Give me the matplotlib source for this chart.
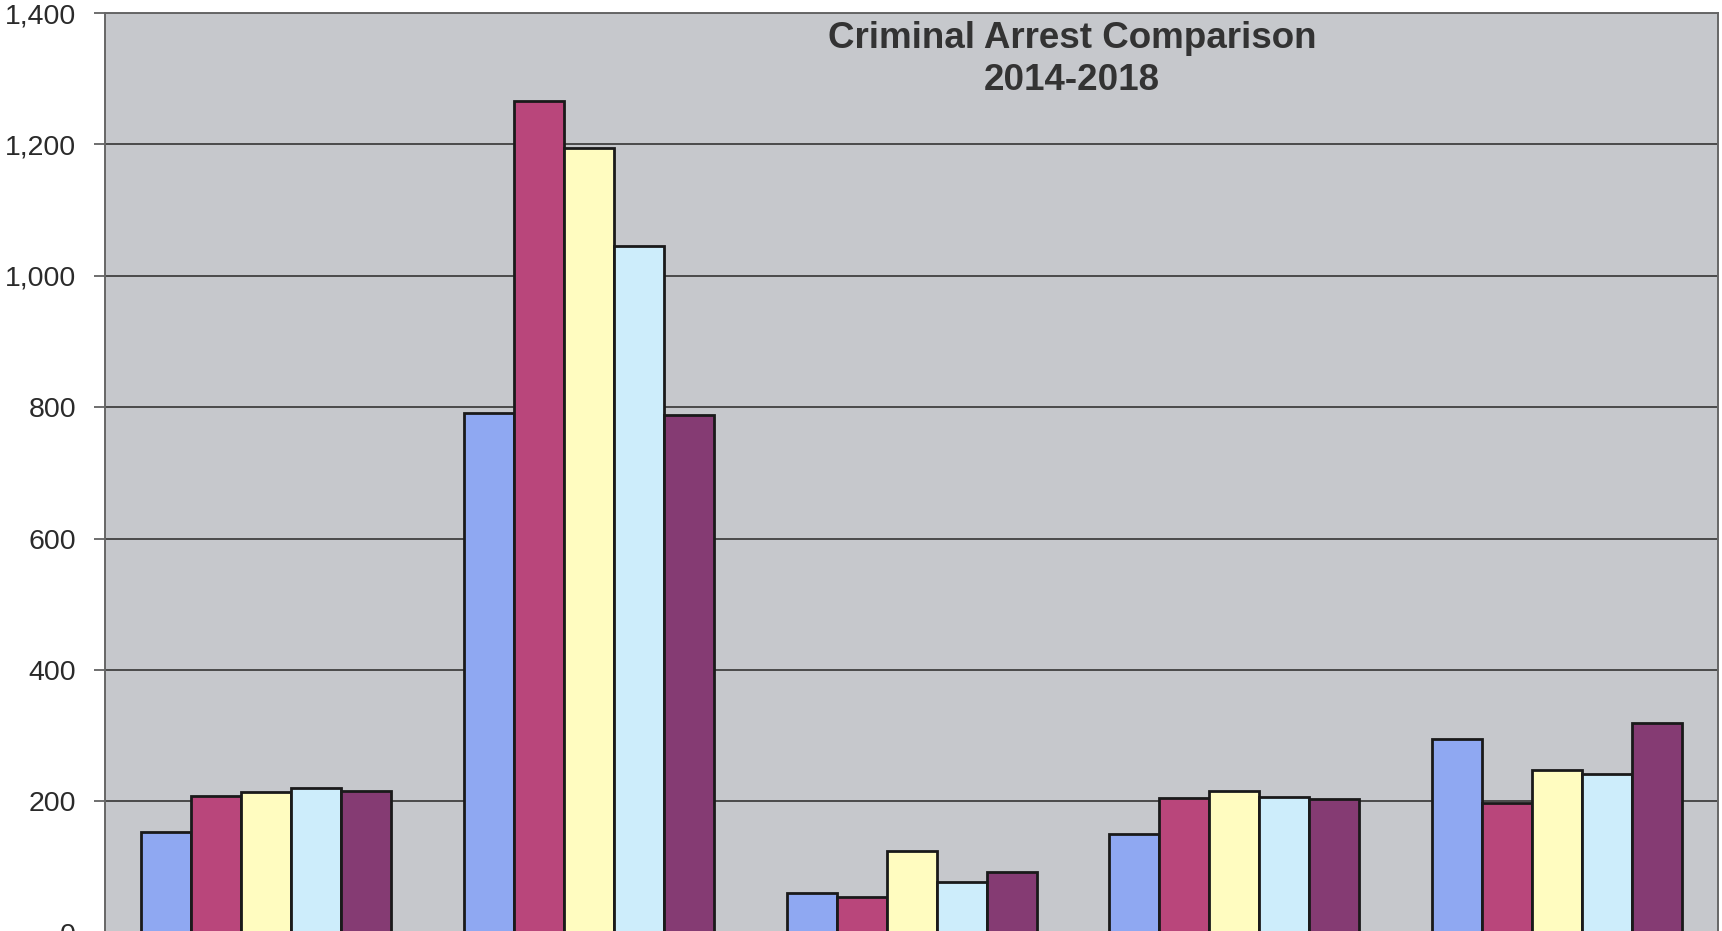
import numpy as np
import matplotlib.pyplot as plt

# series are the five years, groups are the (cut-off) arrest categories
years = ["2014", "2015", "2016", "2017", "2018"]
n_groups = 5

arrests_2014 = [153, 792, 60, 150, 295]
arrests_2015 = [209, 1266, 54, 206, 197]
arrests_2016 = [215, 1194, 125, 216, 248]
arrests_2017 = [220, 1045, 77, 207, 242]
arrests_2018 = [216, 788, 92, 204, 320]

colores = ["#8FA8F2", "#B9467B", "#FFFCC0", "#CDEDFB", "#853B73"]
y_ticks = [0, 200, 400, 600, 800, 1000, 1200, 1400]


def main():
	series = [arrests_2014, arrests_2015, arrests_2016, arrests_2017, arrests_2018]

	plt.rcParams["font.family"] = ["Liberation Sans", "DejaVu Sans"]
	fig = plt.figure(figsize=(17.22, 9.31), dpi=100)
	ax = fig.add_axes([0.061, -0.002, 0.9367, 0.988])
	ax.set_facecolor("#C6C8CC")

	x = np.arange(n_groups)
	largura = 0.155
	for i, (valores, cor) in enumerate(zip(series, colores)):
		ax.bar(x + (i - 2) * largura, valores, largura, color=cor,
			edgecolor="#1a1a1a", linewidth=2, label=years[i], zorder=3)

	ax.set_xlim(-0.5, n_groups - 0.5)
	ax.set_ylim(0, 1400)
	ax.set_yticks(y_ticks)
	ax.set_yticklabels([f"{v:,}" for v in y_ticks], fontsize=20.5, color="#2a2a2a")
	ax.tick_params(axis="y", length=8, width=1.2, pad=13, color="#555555")
	ax.set_xticks(np.arange(n_groups + 1) - 0.5)
	ax.set_xticklabels([])
	ax.tick_params(axis="x", length=8, color="#555555")
	ax.grid(axis="y", color="#4a4a4a", linewidth=1.4, zorder=1)

	for lado in ["left", "top", "right", "bottom"]:
		ax.spines[lado].set_color("#666666")
		ax.spines[lado].set_linewidth(1.4)

	fig.text(0.6225, 0.977, "Criminal Arrest Comparison\n2014-2018", ha="center", va="top",
		fontsize=26.5, fontweight="bold", color="#333333", linespacing=1.25)

	plt.savefig("out.png", dpi=100)


if __name__ == "__main__":
	main()
